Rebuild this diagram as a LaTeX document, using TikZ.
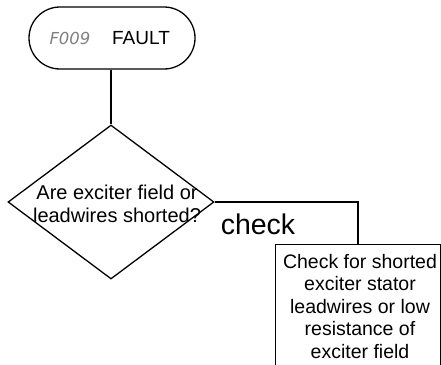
\documentclass[tikz,border=0pt]{standalone}
\usepackage{fontspec}
\setmainfont{Liberation Sans}
\newfontfamily\segfont{DejaVu Sans}
\usetikzlibrary{shapes.geometric}
\tikzset{
  ln/.style={line width=1.3pt, black},
  term/.style={ln, draw, rectangle, rounded corners=31pt, minimum width=166pt, minimum height=62pt, inner sep=0pt},
  dec/.style={ln, draw, diamond, minimum width=206pt, minimum height=154pt, inner sep=0pt},
  txt/.style={font=\fontsize{19.5}{22.5}\selectfont, align=center, inner sep=0pt},
  procbox/.style={ln, draw, rectangle, anchor=north west, minimum width=165pt, minimum height=130pt, inner sep=0pt},
}
\begin{document}
\begin{tikzpicture}[x=1pt,y=-1pt]
\useasboundingbox (0,0) rectangle (441,364);
\clip (0,0) rectangle (441,364);
\node[term] (t) at (112,38) {};
\node[inner sep=0pt, text=gray, font=\segfont\fontsize{16.5}{16.5}\selectfont\itshape] (fc) at (70,38) {F009};
\node[inner sep=0pt, font=\fontsize{19}{19}\selectfont] (fl) at (141,38) {FAULT};
\node[dec] (d) at (111,202) {};
\node[txt, font=\fontsize{20}{23}\selectfont] (dt) at (117,204) {Are exciter field or\\leadwires shorted?};
\node[procbox] (b) at (275,244) {};
\node[txt, anchor=north] (bt) at (360,254) {Check for shorted\\exciter stator\\leadwires or low\\resistance of\\exciter field};
\node[inner sep=0pt, font=\fontsize{28.5}{28.5}\selectfont] (ck) at (258,224) {check};
\coordinate (c1) at (358,202);
\draw[ln] (t.south -| d.north) -- (d.north);
\draw[ln] (d.east) -- (c1) -- (b.north -| c1);
\end{tikzpicture}
\end{document}
